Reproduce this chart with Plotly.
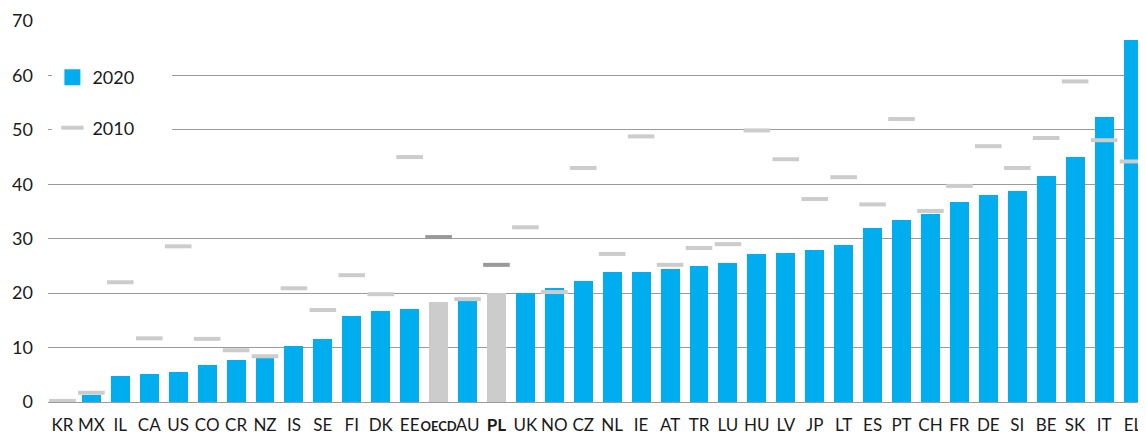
import plotly.graph_objects as go

countries = ["KR", "MX", "IL", "CA", "US", "CO", "CR", "NZ", "IS", "SE", "FI", "DK", "EE", "OECD",
             "AU", "PL", "UK", "NO", "CZ", "NL", "IE", "AT", "TR", "LU", "HU", "LV", "JP", "LT",
             "ES", "PT", "CH", "FR", "DE", "SI", "BE", "SK", "IT", "EL"]
v2020 = [0.5, 1.3, 4.8, 5.1, 5.5, 6.8, 7.7, 8.1, 10.3, 11.6, 15.8, 16.7, 17.1, 18.4,
         18.5, 20.0, 20.0, 20.9, 22.2, 23.9, 23.9, 24.4, 25.0, 25.5, 27.2, 27.4, 27.9, 28.8,
         31.9, 33.4, 34.5, 36.7, 38.0, 38.7, 41.5, 45.0, 52.3, 66.5]
v2010 = [0.2, 1.7, 22.0, 11.7, 28.6, 11.6, 9.5, 8.4, 20.9, 16.9, 23.3, 19.8, 45.0, 30.3,
         18.9, 25.2, 32.1, 20.2, 43.0, 27.2, 48.8, 25.2, 28.3, 29.0, 49.9, 44.6, 37.3, 41.3,
         36.3, 52.0, 35.1, 39.7, 47.0, 43.0, 48.5, 58.9, 48.1, 44.2]
highlight = ["OECD", "PL"]

BLUE = "#00AEEF"
bar_colors = ["#CCCCCC" if c in highlight else BLUE for c in countries]
dash_colors = ["#999999" if c in highlight else "#CCCCCC" for c in countries]
# OECD is squeezed between its neighbours, so it gets a smaller size
ticktext = []
for c in countries:
    if c == "OECD":
        ticktext.append('<b><span style="font-size:13px">%s</span></b>' % c)
    elif c in highlight:
        ticktext.append("<b>%s</b>" % c)
    else:
        ticktext.append(c)
xs = list(range(len(countries)))

fig = go.Figure()
fig.add_trace(go.Bar(x=xs, y=v2020, marker=dict(color=bar_colors, line=dict(width=0)),
                     width=0.655, showlegend=False))
# legend proxy for the 2020 bars
pad = "\u00a0" * 7
fig.add_trace(go.Scatter(x=[None], y=[None], mode="markers", name="2020" + pad,
                         legendgroup="a", marker=dict(symbol="square", size=19, color=BLUE)))
fig.add_trace(go.Scatter(x=xs, y=v2010, mode="markers", name="2010" + pad,
                         legendgroup="b",
                         marker=dict(symbol="line-ew", size=19,
                                     line=dict(width=4, color=dash_colors))))

# the page body has an 8px margin, so the figure is sized 8px smaller
font = "Lato, 'Noto Sans', sans-serif"
fig.update_layout(
    width=1138, height=429,
    margin=dict(l=40, r=0, t=13, b=35, autoexpand=False),
    paper_bgcolor="white", plot_bgcolor="white",
    font=dict(family=font, size=18, color="#1a1a1a"),
    bargap=0,
    legend=dict(x=0.004, y=0.9, xanchor="left", yanchor="top", bgcolor="white",
                traceorder="grouped", tracegroupgap=24, itemsizing="trace",
                font=dict(size=18)),
)
fig.update_xaxes(range=[-0.5, 37.45], tickmode="array", tickvals=xs, ticktext=ticktext,
                 showgrid=False, ticks="", tickangle=0, automargin=False,
                 ticklabelstandoff=11, ticklabeloverflow="allow",
                 tickfont=dict(family=font, size=17))
fig.update_yaxes(range=[0, 70], dtick=10, showgrid=True, gridcolor="#9a9a9a", gridwidth=1,
                 zeroline=True, zerolinecolor="#9a9a9a", zerolinewidth=1, automargin=False,
                 ticks="", ticklabelstandoff=14, tickfont=dict(size=18))

fig.write_html("out.html")
